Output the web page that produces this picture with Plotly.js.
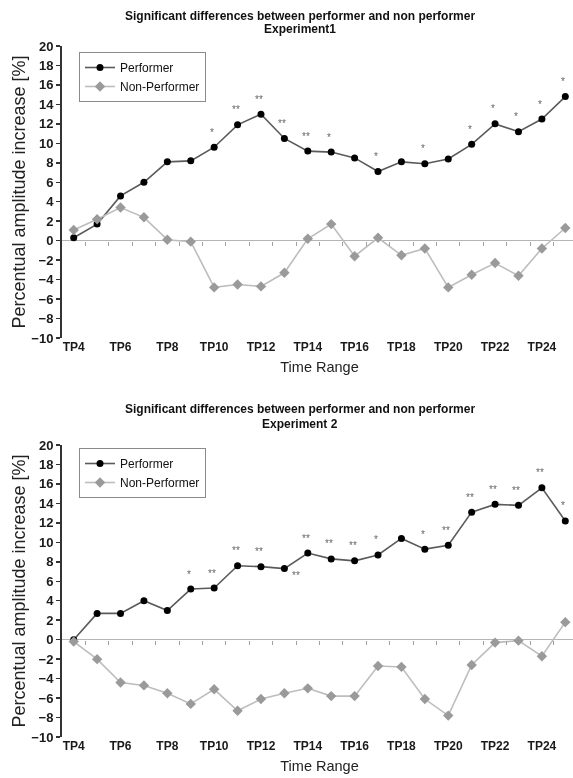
<!DOCTYPE html>
<html>
<head>
<meta charset="utf-8">
<script src="https://cdn.plot.ly/plotly-3.0.1.min.js"></script>
<style>
html, body { margin: 0; padding: 0; overflow: hidden; background: #fff; }
#chart { width: 590px; height: 778px; filter: grayscale(100%); }
</style>
</head>
<body>
<div id="chart"></div>
<script>
// ---- data ----
const categories = ['TP4','TP5','TP6','TP7','TP8','TP9','TP10','TP11','TP12','TP13','TP14',
                    'TP15','TP16','TP17','TP18','TP19','TP20','TP21','TP22','TP23','TP24','TP25'];
const tickLabels = ['TP4','TP6','TP8','TP10','TP12','TP14','TP16','TP18','TP20','TP22','TP24'];

const exp1Performer    = [0.3, 1.7, 4.6, 6.0, 8.1, 8.2, 9.6, 11.9, 13.0, 10.5, 9.2,
                          9.1, 8.5, 7.1, 8.1, 7.9, 8.4, 9.9, 12.0, 11.2, 12.5, 14.8];
const exp1NonPerformer = [1.1, 2.2, 3.4, 2.4, 0.1, -0.1, -4.8, -4.5, -4.7, -3.3, 0.2,
                          1.7, -1.6, 0.3, -1.5, -0.8, -4.8, -3.5, -2.3, -3.6, -0.8, 1.3];
const exp1Sig          = ['', '', '', '', '', '', '*', '**', '**', '**', '**',
                          '*', '', '*', '', '*', '', '*', '*', '*', '*', '*'];
const exp1SigPlace     = categories.map(() => 'above');

const exp2Performer    = [0.0, 2.7, 2.7, 4.0, 3.0, 5.2, 5.3, 7.6, 7.5, 7.3, 8.9,
                          8.3, 8.1, 8.7, 10.4, 9.3, 9.7, 13.1, 13.9, 13.8, 15.6, 12.2];
const exp2NonPerformer = [-0.2, -2.0, -4.4, -4.7, -5.5, -6.6, -5.1, -7.3, -6.1, -5.5, -5.0,
                          -5.8, -5.8, -2.7, -2.8, -6.1, -7.8, -2.6, -0.3, -0.1, -1.7, 1.8];
const exp2Sig          = ['', '', '', '', '', '*', '**', '**', '**', '**', '**',
                          '**', '**', '*', '', '*', '**', '**', '**', '**', '**', '*'];
const exp2SigPlace     = ['above','above','above','above','above','above','above','above','above','below','above',
                          'above','above','above','above','above','above','above','above','above','above','above'];

const titleLine1 = 'Significant differences between performer and non performer';
const titleExp1 = 'Experiment1';
const titleExp2 = 'Experiment 2';
const yTitle = 'Percentual amplitude increase [%]';
const xTitle = 'Time Range';
const seriesNames = ['Performer', 'Non-Performer'];

// ---- layout geometry ----
const W = 590, H = 778, ML = 62, MR = 13;
const PW = W - ML - MR;
const px2y = p => 1 - p / H;
const px2x = p => (p - ML) / PW;
const dom1 = [px2y(338), px2y(46)];
const dom2 = [px2y(737), px2y(445)];
const yRange = [-10, 20];
const zeroFrac = d => d[0] + (0 - yRange[0]) / (yRange[1] - yRange[0]) * (d[1] - d[0]);
const boundaries = categories.map((_, i) => i + 0.5);

const FONT = 'Liberation Sans, Arial, sans-serif';
const perfStyle = { line: { color: '#5a5a5a', width: 1.6 }, marker: { color: '#000', size: 7, symbol: 'circle' } };
const nonStyle  = { line: { color: '#bdbdbd', width: 1.6 }, marker: { color: '#9a9a9a', size: 8, symbol: 'diamond' } };

function traces(perf, non, xa, ya, leg) {
  return [
    Object.assign({ type: 'scatter', mode: 'lines+markers', name: seriesNames[0], x: categories, y: perf,
                    xaxis: xa, yaxis: ya, legend: leg, hoverinfo: 'skip' }, perfStyle),
    Object.assign({ type: 'scatter', mode: 'lines+markers', name: seriesNames[1], x: categories, y: non,
                    xaxis: xa, yaxis: ya, legend: leg, hoverinfo: 'skip' }, nonStyle)
  ];
}

function sigAnnotations(perf, sig, place, xref, yref) {
  const out = [];
  sig.forEach((s, i) => {
    if (!s) return;
    const below = place[i] === 'below';
    out.push({
      xref: xref, yref: yref, x: categories[i], y: perf[i], text: s, showarrow: false,
      yshift: below ? -7 : 15, xshift: below ? 12 : -2,
      font: { family: FONT, size: 10, color: '#666' }
    });
  });
  return out;
}

function yAxis(dom) {
  return {
    domain: dom, range: yRange, tickmode: 'linear', tick0: -10, dtick: 2,
    ticks: 'outside', ticklen: 4, tickwidth: 1.5, tickcolor: '#333',
    showline: true, linecolor: '#333', linewidth: 2,
    zeroline: true, zerolinecolor: '#b5b5b5', zerolinewidth: 1.6,
    showgrid: false, tickfont: { family: FONT, size: 13, color: '#1a1a1a', weight: 'bold' },
    title: { text: yTitle, font: { family: FONT, size: 18, color: '#222' }, standoff: 1 },
    fixedrange: true
  };
}
function xAxis(anchor) {
  return {
    type: 'category', anchor: anchor, domain: [0, 1], range: [-0.5, categories.length - 0.5],
    tickmode: 'array', tickvals: tickLabels, ticktext: tickLabels, ticks: '',
    showline: false, showgrid: false, zeroline: false,
    tickfont: { family: FONT, size: 12, color: '#1a1a1a', weight: 'bold' },
    title: { text: xTitle, font: { family: FONT, size: 14.5, color: '#222' }, standoff: 8 },
    fixedrange: true
  };
}
function zeroTickAxis(over, dom) {
  return {
    overlaying: over, anchor: 'free', position: zeroFrac(dom), side: 'bottom',
    type: 'linear', range: [-0.5, categories.length - 0.5],
    tickmode: 'array', tickvals: boundaries, ticks: 'outside', ticklen: 4, tickwidth: 1,
    tickcolor: '#a0a0a0', showticklabels: false, showline: false, showgrid: false, zeroline: false,
    fixedrange: true
  };
}

const data = [].concat(
  traces(exp1Performer, exp1NonPerformer, 'x', 'y', 'legend'),
  traces(exp2Performer, exp2NonPerformer, 'x2', 'y2', 'legend2')
);
// helper traces so the zero-line tick axes are drawn
data.push({ type: 'scatter', x: [categories.length - 0.5], y: [null], xaxis: 'x3', yaxis: 'y', showlegend: false, hoverinfo: 'skip' });
data.push({ type: 'scatter', x: [categories.length - 0.5], y: [null], xaxis: 'x4', yaxis: 'y2', showlegend: false, hoverinfo: 'skip' });

const titleFont = { family: FONT, size: 12, color: '#111', weight: 'bold' };
const cx = px2x(300);
const annotations = [
  { xref: 'paper', yref: 'paper', x: cx, y: px2y(15.5), text: titleLine1, showarrow: false, font: titleFont, xanchor: 'center', yanchor: 'middle' },
  { xref: 'paper', yref: 'paper', x: cx, y: px2y(29.5), text: titleExp1, showarrow: false, font: titleFont, xanchor: 'center', yanchor: 'middle' },
  { xref: 'paper', yref: 'paper', x: cx, y: px2y(409), text: titleLine1, showarrow: false, font: titleFont, xanchor: 'center', yanchor: 'middle' },
  { xref: 'paper', yref: 'paper', x: cx, y: px2y(423.5), text: titleExp2, showarrow: false, font: titleFont, xanchor: 'center', yanchor: 'middle' }
].concat(
  sigAnnotations(exp1Performer, exp1Sig, exp1SigPlace, 'x', 'y'),
  sigAnnotations(exp2Performer, exp2Sig, exp2SigPlace, 'x2', 'y2')
);

const legendBase = {
  xanchor: 'left', yanchor: 'top', bgcolor: '#fff', bordercolor: '#8a8a8a', borderwidth: 1,
  font: { family: FONT, size: 12, color: '#111' }, itemwidth: 30, tracegroupgap: 0
};

const layout = {
  width: W, height: H, margin: { l: ML, r: MR, t: 0, b: 0 },
  paper_bgcolor: '#fff', plot_bgcolor: '#fff', showlegend: true,
  font: { family: FONT, color: '#222' },
  xaxis: xAxis('y'), yaxis: yAxis(dom1),
  xaxis2: xAxis('y2'), yaxis2: yAxis(dom2),
  xaxis3: zeroTickAxis('x', dom1), xaxis4: zeroTickAxis('x2', dom2),
  legend: Object.assign({ x: px2x(79), y: px2y(52) }, legendBase),
  legend2: Object.assign({ x: px2x(79), y: px2y(448) }, legendBase),
  annotations: annotations
};

Plotly.newPlot('chart', data, layout, { staticPlot: true, displayModeBar: false });
</script>
</body>
</html>
